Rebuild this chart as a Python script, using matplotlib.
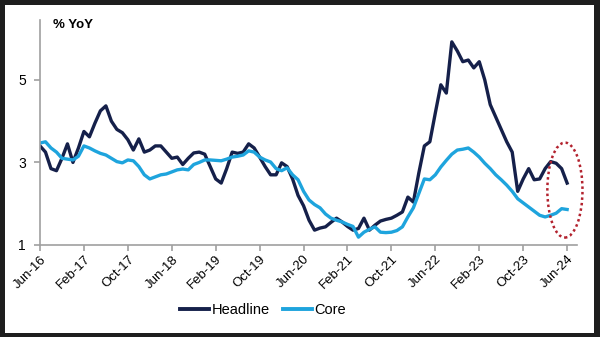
import matplotlib
matplotlib.use("Agg")
import matplotlib.pyplot as plt
from matplotlib.patches import Ellipse, Rectangle
import numpy as np

plt.rcParams['font.family'] = ['Liberation Sans', 'DejaVu Sans']

# monthly data, Jun-16 .. Jun-24 (97 months), % YoY
headline = [3.40, 3.25, 2.85, 2.80, 3.10, 3.45, 3.00, 3.35, 3.75, 3.62,
            3.95, 4.25, 4.37, 4.00, 3.80, 3.72, 3.55, 3.30, 3.57, 3.25,
            3.30, 3.40, 3.40, 3.25, 3.10, 3.13, 2.95, 3.10, 3.23, 3.25,
            3.20, 2.90, 2.60, 2.50, 2.85, 3.25, 3.22, 3.25, 3.45, 3.35,
            3.13, 2.90, 2.70, 2.70, 2.99, 2.90, 2.60, 2.20, 1.95, 1.60,
            1.36, 1.41, 1.44, 1.55, 1.65, 1.56, 1.45, 1.36, 1.40, 1.65,
            1.36, 1.48, 1.58, 1.62, 1.65, 1.72, 1.80, 2.16, 2.04, 2.75,
            3.40, 3.50, 4.20, 4.88, 4.68, 5.92, 5.70, 5.44, 5.48, 5.29,
            5.44, 5.00, 4.40, 4.10, 3.80, 3.50, 3.25, 2.30, 2.60, 2.85,
            2.58, 2.60, 2.85, 3.02, 2.98, 2.85, 2.50]
core = [3.47, 3.50, 3.35, 3.25, 3.10, 3.08, 3.06, 3.15, 3.40, 3.35,
        3.28, 3.22, 3.18, 3.10, 3.02, 2.99, 3.06, 3.04, 2.90, 2.70,
        2.60, 2.65, 2.70, 2.72, 2.77, 2.82, 2.84, 2.82, 2.95, 3.00,
        3.06, 3.06, 3.05, 3.04, 3.08, 3.13, 3.15, 3.18, 3.28, 3.25,
        3.13, 3.06, 3.01, 2.85, 2.80, 2.87, 2.70, 2.58, 2.30, 2.09,
        1.98, 1.90, 1.75, 1.65, 1.60, 1.56, 1.50, 1.45, 1.19, 1.31,
        1.38, 1.44, 1.31, 1.30, 1.31, 1.35, 1.44, 1.68, 1.90, 2.25,
        2.60, 2.58, 2.70, 2.89, 3.05, 3.20, 3.30, 3.32, 3.35, 3.25,
        3.13, 2.98, 2.85, 2.70, 2.58, 2.45, 2.30, 2.12, 2.02, 1.92,
        1.82, 1.72, 1.68, 1.72, 1.77, 1.88, 1.86]
tick_labels = ['Jun-16', 'Feb-17', 'Oct-17', 'Jun-18', 'Feb-19', 'Oct-19', 'Jun-20',
               'Feb-21', 'Oct-21', 'Jun-22', 'Feb-23', 'Oct-23', 'Jun-24']
y_ticks = [1, 3, 5]

months = np.arange(len(headline))

fig = plt.figure(figsize=(6, 3.37), dpi=100)
fig.patch.set_facecolor('#1e1e1e')
# white panel behind everything
panel = Rectangle((5 / 600, 4 / 337), 589 / 600, 328 / 337,
                  transform=fig.transFigure, facecolor='white',
                  edgecolor='none', zorder=-10)
fig.patches.append(panel)

ax = fig.add_axes([40 / 600, 92 / 337, 537 / 600, 225 / 337])
ax.set_facecolor('none')
ax.set_zorder(1)

ax.plot(months, headline, color='#15204a', lw=2.4, label='Headline', solid_joinstyle='round')
ax.plot(months, core, color='#1ea4dd', lw=2.4, label='Core', solid_joinstyle='round')

ax.set_xlim(0, 97.8)
ax.set_ylim(1, 6.45)
ax.set_xticks(np.arange(0, 97, 8))
ax.set_xticklabels(tick_labels, rotation=45, ha='right', rotation_mode='anchor', fontsize=9.5)
ax.set_yticks(y_ticks)
ax.set_yticklabels([str(v) for v in y_ticks], fontsize=10)

for s in ['top', 'right']:
    ax.spines[s].set_visible(False)
for s in ['left', 'bottom']:
    ax.spines[s].set_color('#a0a0a0')
    ax.spines[s].set_linewidth(1.2)
ax.tick_params(axis='both', color='#a0a0a0', length=4, width=1.2, direction='out')
ax.tick_params(axis='x', pad=2)
ax.tick_params(axis='y', pad=6)

# red dotted ellipse around the latest readings
ell = Ellipse((95.6, 2.33), 6.4, 2.3, fill=False, edgecolor='#b3222e',
              linestyle=(0, (1, 1.2)), lw=1.8, clip_on=False, zorder=5)
ax.add_patch(ell)

fig.text(53 / 600, 1 - 25 / 337, '% YoY', fontsize=9.5, fontweight='bold', va='center')

leg = fig.legend(loc='center', bbox_to_anchor=(263 / 600, 1 - 310 / 337), ncol=2,
                 frameon=False, handlelength=2.0, handletextpad=0.15,
                 columnspacing=0.9,
                 prop={'family': ['Liberation Sans Narrow', 'Liberation Sans'], 'size': 10.5})
for h in leg.get_lines():
    h.set_linewidth(2.8)

fig.savefig('out.png', dpi=100, facecolor=fig.get_facecolor())
